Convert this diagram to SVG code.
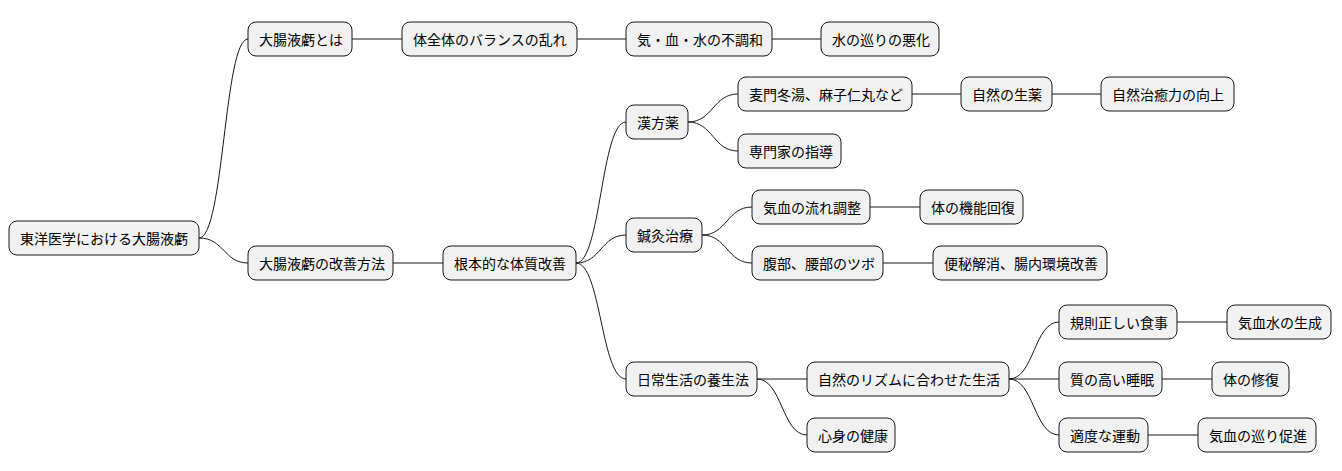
<svg xmlns="http://www.w3.org/2000/svg" width="1342" height="471" viewBox="0 0 1342 471">
<style>
.n rect{fill:#f1f1f1;stroke:#181818;stroke-width:1}
.n text{font-family:"Noto Sans CJK JP","Noto Sans CJK SC",sans-serif;font-size:14px;fill:#000;dominant-baseline:central}
#c path{fill:none;stroke:#181818;stroke-width:1}
</style>
<rect width="1342" height="471" fill="#fff"/>
<g id="c">
<path d="M199,238 C224,238 224,39 248,39"/>
<path d="M199,238 C224,238 224,263 248,263"/>
<path d="M352,39 L402,39"/>
<path d="M577,39 L626,39"/>
<path d="M772,39 L821,39"/>
<path d="M393,263 L443,263"/>
<path d="M576,263 C601,263 601,122 626,122"/>
<path d="M576,263 C601,263 601,235 626,235"/>
<path d="M576,263 C601,263 601,379 626,379"/>
<path d="M688,122 C713,122 713,94 738,94"/>
<path d="M688,122 C713,122 713,151 738,151"/>
<path d="M912,94 L961,94"/>
<path d="M1052,94 L1101,94"/>
<path d="M702,235 C727,235 727,207 752,207"/>
<path d="M702,235 C727,235 727,263 752,263"/>
<path d="M870,207 L920,207"/>
<path d="M883,263 L933,263"/>
<path d="M757,379 L807,379"/>
<path d="M757,379 C782,379 782,435 807,435"/>
<path d="M1009,379 C1034,379 1034,322 1059,322"/>
<path d="M1009,379 L1059,379"/>
<path d="M1009,379 C1034,379 1034,435 1059,435"/>
<path d="M1177,322 L1227,322"/>
<path d="M1162,379 L1212,379"/>
<path d="M1148,435 L1198,435"/>
</g>
<g id="root" class="n"><rect x="9" y="221" width="190" height="34" rx="8"/><text x="20" y="238">東洋医学における大腸液虧</text></g>
<g id="n1" class="n"><rect x="248" y="22" width="104" height="34" rx="8"/><text x="259" y="39">大腸液虧とは</text></g>
<g id="n2" class="n"><rect x="402" y="22" width="175" height="34" rx="8"/><text x="413" y="39">体全体のバランスの乱れ</text></g>
<g id="n3" class="n"><rect x="626" y="22" width="146" height="34" rx="8"/><text x="637" y="39">気・血・水の不調和</text></g>
<g id="n4" class="n"><rect x="821" y="22" width="118" height="34" rx="8"/><text x="832" y="39">水の巡りの悪化</text></g>
<g id="n5" class="n"><rect x="248" y="246" width="145" height="34" rx="8"/><text x="259" y="263">大腸液虧の改善方法</text></g>
<g id="n6" class="n"><rect x="443" y="246" width="133" height="34" rx="8"/><text x="454" y="263">根本的な体質改善</text></g>
<g id="n7" class="n"><rect x="626" y="105" width="62" height="34" rx="8"/><text x="637" y="122">漢方薬</text></g>
<g id="n8" class="n"><rect x="738" y="77" width="174" height="34" rx="8"/><text x="749" y="94">麦門冬湯、麻子仁丸など</text></g>
<g id="n9" class="n"><rect x="961" y="77" width="91" height="34" rx="8"/><text x="972" y="94">自然の生薬</text></g>
<g id="n10" class="n"><rect x="1101" y="77" width="133" height="34" rx="8"/><text x="1112" y="94">自然治癒力の向上</text></g>
<g id="n11" class="n"><rect x="738" y="134" width="103" height="34" rx="8"/><text x="749" y="151">専門家の指導</text></g>
<g id="n12" class="n"><rect x="626" y="218" width="76" height="34" rx="8"/><text x="637" y="235">鍼灸治療</text></g>
<g id="n13" class="n"><rect x="752" y="190" width="118" height="34" rx="8"/><text x="763" y="207">気血の流れ調整</text></g>
<g id="n14" class="n"><rect x="920" y="190" width="103" height="34" rx="8"/><text x="931" y="207">体の機能回復</text></g>
<g id="n15" class="n"><rect x="752" y="246" width="131" height="34" rx="8"/><text x="763" y="263">腹部、腰部のツボ</text></g>
<g id="n16" class="n"><rect x="933" y="246" width="174" height="34" rx="8"/><text x="944" y="263">便秘解消、腸内環境改善</text></g>
<g id="n17" class="n"><rect x="626" y="362" width="131" height="34" rx="8"/><text x="637" y="379">日常生活の養生法</text></g>
<g id="n18" class="n"><rect x="807" y="362" width="202" height="34" rx="8"/><text x="818" y="379">自然のリズムに合わせた生活</text></g>
<g id="n19" class="n"><rect x="1059" y="305" width="118" height="34" rx="8"/><text x="1070" y="322">規則正しい食事</text></g>
<g id="n20" class="n"><rect x="1227" y="305" width="104" height="34" rx="8"/><text x="1238" y="322">気血水の生成</text></g>
<g id="n21" class="n"><rect x="1059" y="362" width="103" height="34" rx="8"/><text x="1070" y="379">質の高い睡眠</text></g>
<g id="n22" class="n"><rect x="1212" y="362" width="77" height="34" rx="8"/><text x="1223" y="379">体の修復</text></g>
<g id="n23" class="n"><rect x="1059" y="418" width="89" height="34" rx="8"/><text x="1070" y="435">適度な運動</text></g>
<g id="n24" class="n"><rect x="1198" y="418" width="118" height="34" rx="8"/><text x="1209" y="435">気血の巡り促進</text></g>
<g id="n25" class="n"><rect x="807" y="418" width="88" height="34" rx="8"/><text x="818" y="435">心身の健康</text></g>
</svg>
